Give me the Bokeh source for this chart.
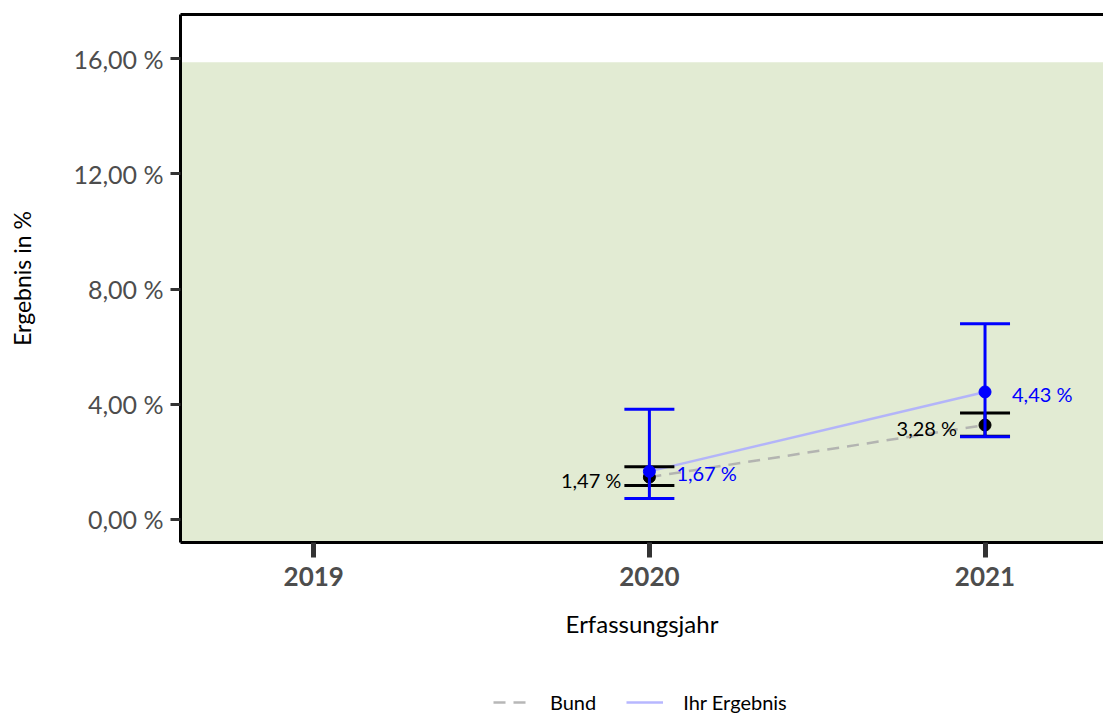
from bokeh.plotting import figure
from bokeh.layouts import column
from bokeh.models import (ColumnDataSource, BoxAnnotation, FixedTicker, LinearAxis,
                          Legend, LegendItem, Range1d)
from bokeh.core.properties import value
from bokeh.embed import file_html
from bokeh.resources import INLINE

# ---- data ----
years = [2020, 2021]
bund = [1.47, 3.28]
bund_lo = [1.18, 2.89]
bund_hi = [1.83, 3.70]
ihr = [1.67, 4.43]
ihr_lo = [0.73, 2.87]
ihr_hi = [3.83, 6.80]
band_top = 15.88
xtick_vals = [2019, 2020, 2021]
xtick_labels = ["2019", "2020", "2021"]
ytick_vals = [0, 4, 8, 12, 16]
ytick_labels = ["0,00 %", "4,00 %", "8,00 %", "12,00 %", "16,00 %"]
series_names = ["Bund", "Ihr Ergebnis"]

def fmt(v):
    return f"{v:.2f}".replace(".", ",") + " %"

FONT = "Lato"
C_BUND = "#aaaaaa"
C_IHR = "#aaaaff"
DASH = "12 8"

src_b = ColumnDataSource(dict(x=years, y=bund, lo=bund_lo, hi=bund_hi,
                              t=[fmt(v) for v in bund]))
src_i = ColumnDataSource(dict(x=years, y=ihr, lo=ihr_lo, hi=ihr_hi,
                              t=[fmt(v) for v in ihr]))

p = figure(width=1103, height=680,
           output_backend="svg", toolbar_location=None,
           x_range=Range1d(2018.603, 2021.353), y_range=Range1d(-0.80, 17.54),
           min_border_left=180, min_border_right=0, min_border_top=14,
           min_border_bottom=138)
p.outline_line_color = None
p.xgrid.grid_line_color = None
p.ygrid.grid_line_color = None
p.background_fill_color = "white"

band = BoxAnnotation(top=band_top, fill_color="#e2ebd3", fill_alpha=1.0,
                     line_color=None, level="underlay")
p.add_layout(band)

# lines
l_b = p.line("x", "y", source=src_b, line_color=C_BUND, line_width=2.5,
             line_dash=DASH, line_alpha=0.85)
l_i = p.line("x", "y", source=src_i, line_color=C_IHR, line_width=2.5,
             line_alpha=0.85)

EW = 3
# Bund error bars
p.segment("x", "lo", "x", "hi", source=src_b, line_color="black", line_width=EW)
p.scatter("x", "lo", source=src_b, marker="dash", size=50, line_color="black", line_width=EW)
p.scatter("x", "hi", source=src_b, marker="dash", size=50, line_color="black", line_width=EW)
p.scatter("x", "y", source=src_b, size=12, fill_color="black", line_color="black")

# Ihr Ergebnis error bars
p.segment("x", "lo", "x", "hi", source=src_i, line_color="blue", line_width=EW)
p.scatter("x", "lo", source=src_i, marker="dash", size=50, line_color="blue", line_width=EW)
p.scatter("x", "hi", source=src_i, marker="dash", size=50, line_color="blue", line_width=EW)
p.scatter("x", "y", source=src_i, size=12, fill_color="blue", line_color="blue")

# value labels
p.text("x", "y", text="t", source=src_b, x_offset=-28, y_offset=3,
       text_align="right", text_baseline="middle", text_color="black",
       text_font=value(FONT), text_font_size="20px")
p.text("x", "y", text="t", source=src_i, x_offset=27, y_offset=2,
       text_align="left", text_baseline="middle", text_color="blue",
       text_font=value(FONT), text_font_size="20px")

# x axis
xa = p.xaxis[0]
xa.ticker = FixedTicker(ticks=xtick_vals)
xa.major_label_overrides = {v: l for v, l in zip(xtick_vals, xtick_labels)}
xa.minor_tick_line_color = None
xa.major_tick_in = 0
xa.major_tick_out = 15
xa.major_tick_line_width = 5
xa.major_tick_line_color = "#333333"
xa.axis_line_color = "black"
xa.axis_line_width = 3
xa.major_label_text_font = FONT
xa.major_label_text_font_style = "bold"
xa.major_label_text_font_size = "26px"
xa.major_label_text_color = "#4d4d4d"
xa.major_label_standoff = 9
xa.axis_label = "Erfassungsjahr"
xa.axis_label_text_font = FONT
xa.axis_label_text_font_style = "normal"
xa.axis_label_text_font_size = "24px"
xa.axis_label_text_color = "black"
xa.axis_label_standoff = 20

# y axis
ya = p.yaxis[0]
ya.ticker = FixedTicker(ticks=ytick_vals)
ya.major_label_overrides = {v: l for v, l in zip(ytick_vals, ytick_labels)}
ya.minor_tick_line_color = None
ya.major_tick_in = 0
ya.major_tick_out = 10
ya.major_tick_line_width = 3
ya.major_tick_line_color = "#333333"
ya.axis_line_color = "black"
ya.axis_line_width = 3
ya.major_label_text_font = FONT
ya.major_label_text_font_size = "25px"
ya.major_label_text_color = "#4d4d4d"
ya.major_label_standoff = 7
ya.axis_label = "Ergebnis in %"
ya.axis_label_text_font = FONT
ya.axis_label_text_font_style = "normal"
ya.axis_label_text_font_size = "23px"
ya.axis_label_text_color = "black"
ya.axis_label_standoff = 34

# top border line
top = LinearAxis(ticker=FixedTicker(ticks=[]), axis_line_color="black", axis_line_width=3,
                 major_tick_line_color=None, minor_tick_line_color=None,
                 major_label_text_font_size="0px", major_label_standoff=0,
                 major_tick_out=0, major_tick_in=0)
p.add_layout(top, "above")

# ---- legend strip (own small figure below the chart) ----
lg = figure(width=1103, height=35, output_backend="svg", toolbar_location=None,
            x_axis_type=None, y_axis_type=None,
            x_range=Range1d(0, 1), y_range=Range1d(0, 1),
            min_border_left=0, min_border_right=0, min_border_top=0,
            min_border_bottom=0)
lg.outline_line_color = None
lg.xgrid.grid_line_color = None
lg.ygrid.grid_line_color = None
# one-point line renderers (draw nothing in the strip) that only carry the legend styling
lr_b = lg.line(x=[years[0]], y=[bund[0]], line_color=C_BUND, line_width=2.5,
               line_dash=DASH, line_alpha=0.85)
lr_i = lg.line(x=[years[0]], y=[ihr[0]], line_color=C_IHR, line_width=2.5,
               line_alpha=0.85)
legend = Legend(items=[LegendItem(label=series_names[0], renderers=[lr_b]),
                       LegendItem(label=series_names[1], renderers=[lr_i])],
                orientation="horizontal", location=(313, 1),
                label_text_font=FONT, label_text_font_size="20px",
                label_text_color="black", glyph_width=37, label_standoff=20,
                spacing=30, border_line_color=None, background_fill_alpha=0,
                margin=0, padding=0)
lg.add_layout(legend)

layout = column(p, lg, spacing=0)
open("out.html", "w").write(file_html(layout, INLINE))
